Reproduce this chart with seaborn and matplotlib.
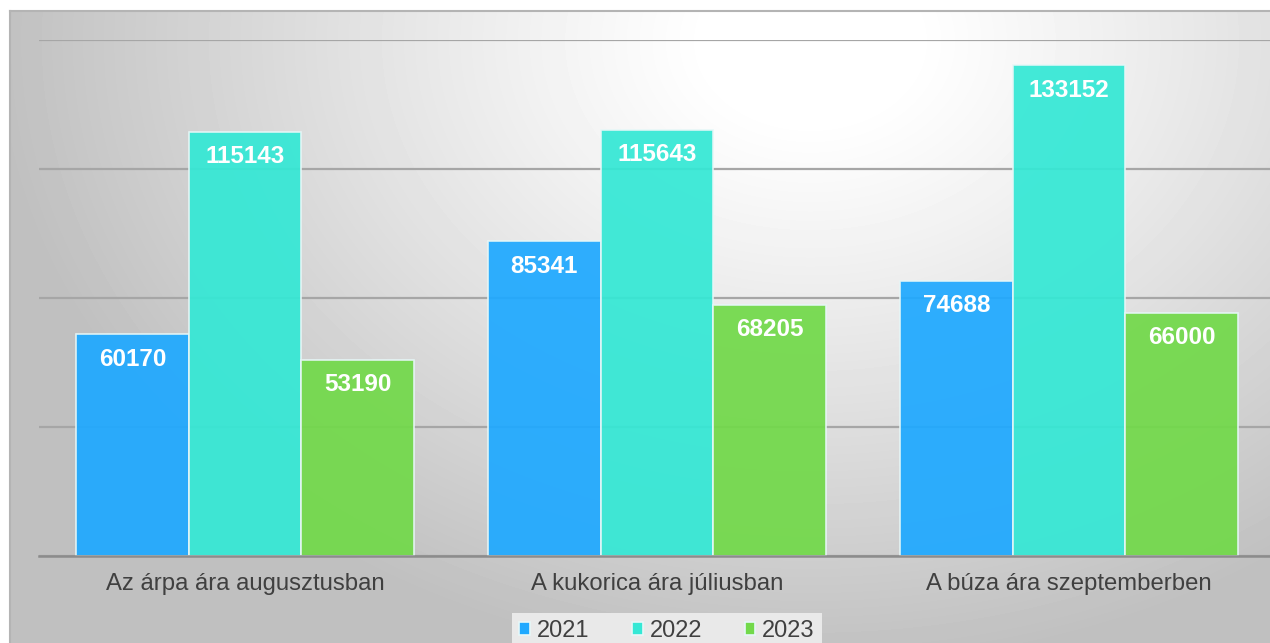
import numpy as np
import pandas as pd
import matplotlib
matplotlib.use("Agg")
import matplotlib.pyplot as plt
import seaborn as sns

# Data
categories = ["Az árpa ára augusztusban", "A kukorica ára júliusban", "A búza ára szeptemberben"]
years = ["2021", "2022", "2023"]
values_2021 = [60170, 85341, 74688]
values_2022 = [115143, 115643, 133152]
values_2023 = [53190, 68205, 66000]
colors = ["#1fa9ff", "#34e8d5", "#72d94a"]

df = pd.DataFrame({
    "kategoria": categories * 3,
    "ev": [y for y in years for _ in categories],
    "ertek": values_2021 + values_2022 + values_2023,
})

sns.set_style("white")
plt.rcParams["font.family"] = ["Liberation Sans", "DejaVu Sans"]

W, H = 1270, 643
fig = plt.figure(figsize=(W / 100, H / 100), dpi=100)
fig.patch.set_facecolor("white")

# Background panel with a soft radial gradient
bg = fig.add_axes([10 / W, 0, (W - 10) / W, (H - 11) / H])
yy, xx = np.mgrid[0:H - 11, 0:W - 10]
d = np.hypot(xx - 800, (yy - 30) * 1.3)
v = 1 - 0.25 * np.clip((d - 100) / 720, 0, 1) ** 1.1
bg.imshow(v, cmap="gray", vmin=0, vmax=1, aspect="auto", interpolation="bilinear")
bg.set_xticks([])
bg.set_yticks([])
for s in ["right", "bottom"]:
    bg.spines[s].set_visible(False)
for s in ["top", "left"]:
    bg.spines[s].set_color("#b4b4b4")
    bg.spines[s].set_linewidth(1.5)

ax = fig.add_axes([39 / W, (H - 556) / H, 1236 / W, 516 / H])
ax.set_facecolor("none")
sns.barplot(data=df, x="kategoria", y="ertek", hue="ev", palette=colors,
            width=0.82, saturation=1, alpha=0.93, edgecolor="#e6f7f7",
            linewidth=1.2, ax=ax, zorder=3)

ax.set_ylim(0, 140000)
ax.set_xlim(-0.5, 2.5)
ax.set_yticks([0, 35000, 70000, 105000, 140000])
ax.set_yticklabels([])
ax.tick_params(axis="y", length=0)
ax.yaxis.grid(True, color="#a6a6a6", linewidth=1.6, zorder=0)
ax.set_axisbelow(True)
for s in ["top", "right", "left"]:
    ax.spines[s].set_visible(False)
ax.spines["bottom"].set_color("#8c8c8c")
ax.spines["bottom"].set_linewidth(1.8)
ax.spines["bottom"].set_zorder(4)
ax.set_xlabel("")
ax.set_ylabel("")
ax.tick_params(axis="x", length=0, pad=12, labelsize=17.2, labelcolor="#404040")

# Value labels inside the top of each bar
for p in ax.patches:
    h = p.get_height()
    if h > 0:
        ax.annotate(f"{int(round(h))}", (p.get_x() + p.get_width() / 2, h),
                    xytext=(0, -18), textcoords="offset points",
                    ha="center", va="center", color="white",
                    fontsize=17.5, fontweight="bold", zorder=5)

handles, labels = ax.get_legend_handles_labels()
ax.get_legend().remove()
leg = fig.legend(handles, labels, loc="lower center",
                 bbox_to_anchor=(667 / W, -6 / H), ncol=3, frameon=True,
                 fontsize=17, handlelength=0.45, handleheight=0.45,
                 handletextpad=0.3, columnspacing=1.8, borderpad=0.3,
                 borderaxespad=0, fancybox=False, labelcolor="#404040")
leg.get_frame().set_facecolor("#e9e9e9")
leg.get_frame().set_edgecolor("none")
leg.get_frame().set_alpha(1)
for hnd in leg.legend_handles:
    hnd.set_alpha(1)

fig.savefig("out.png", dpi=100)
